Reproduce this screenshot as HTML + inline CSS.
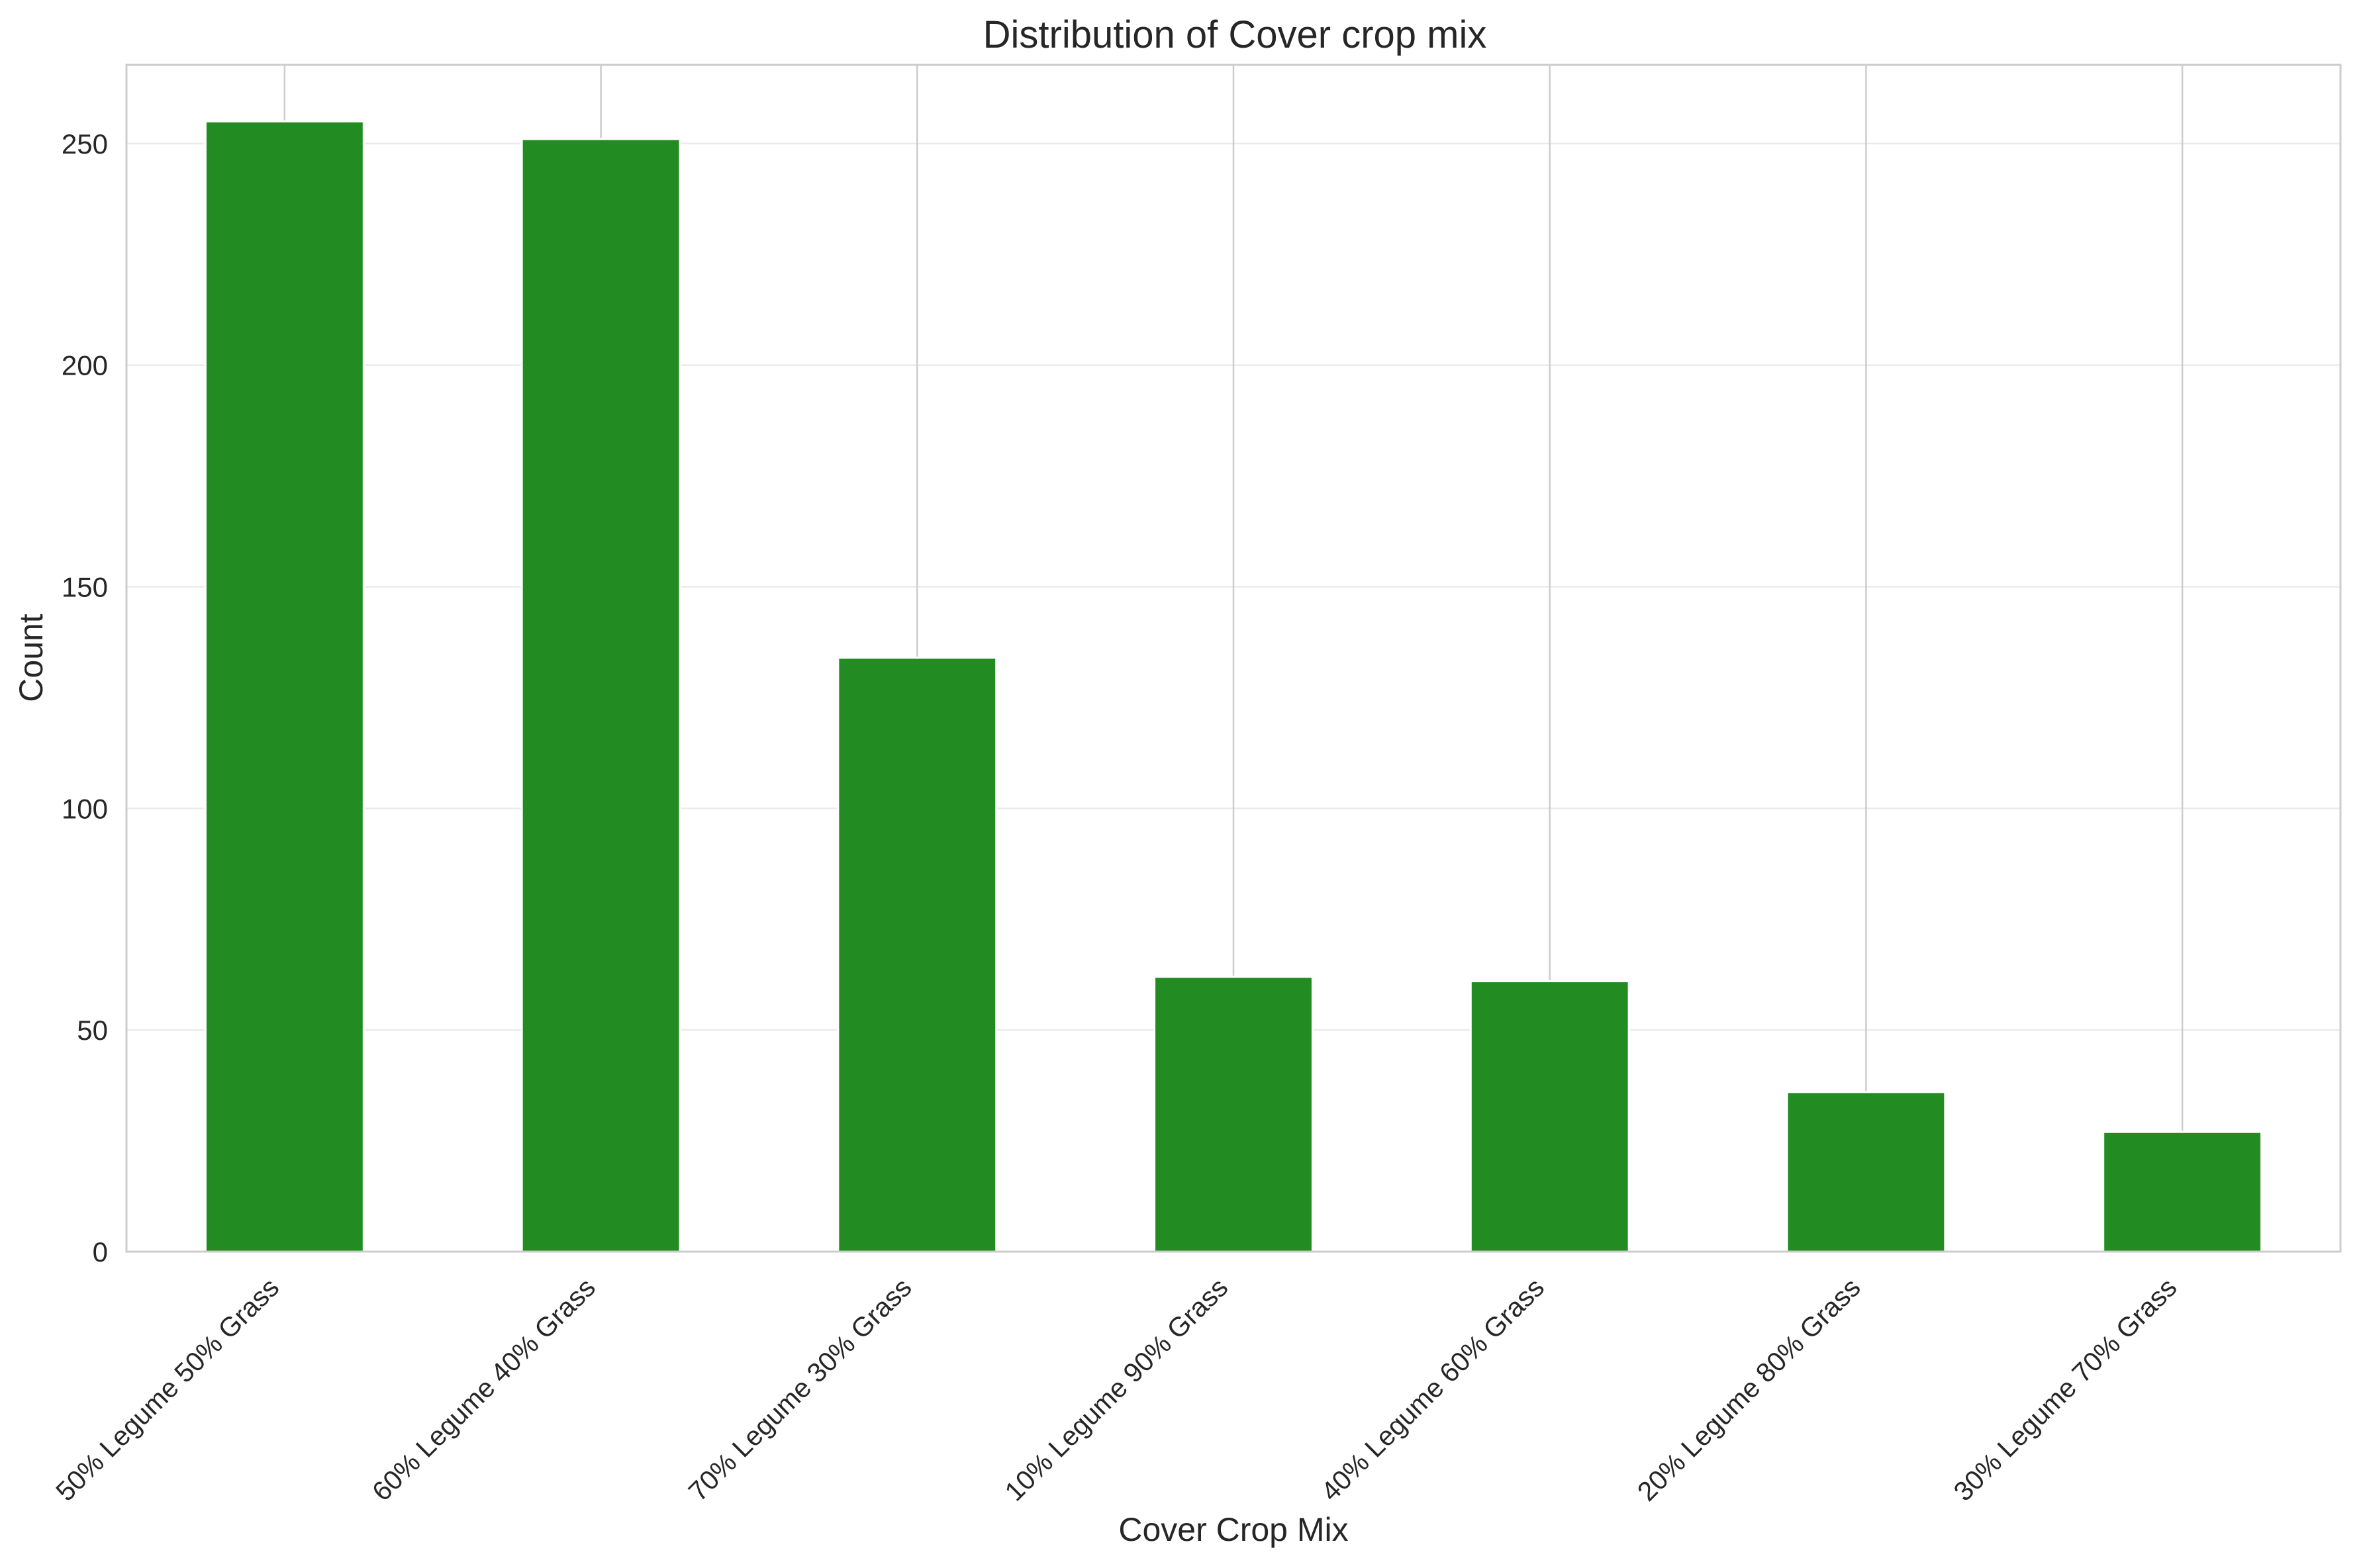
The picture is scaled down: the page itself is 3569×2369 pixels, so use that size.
<!DOCTYPE html>
<html><head><meta charset="utf-8"><style>
html,body{margin:0;padding:0;background:#fff;}
svg{display:block;font-family:"Liberation Sans",Arial,sans-serif;}
</style></head><body>
<svg id="chart" width="3569" height="2369" viewBox="0 0 3569 2369" xmlns="http://www.w3.org/2000/svg">
<rect x="0" y="0" width="3569" height="2369" fill="#fff"/>
<g id="grid"></g>
<g id="bars"></g>
<g id="axes"></g>
<text x="1865" y="72" font-size="58" text-anchor="middle" fill="#262626">Distribution of Cover crop mix</text>
<text x="1863" y="2328" font-size="50" text-anchor="middle" fill="#262626">Cover Crop Mix</text>
<text transform="translate(64,994) rotate(-90)" font-size="50" text-anchor="middle" fill="#262626">Count</text>
</svg>
<script>
const categories = ["50% Legume 50% Grass","60% Legume 40% Grass","70% Legume 30% Grass","10% Legume 90% Grass","40% Legume 60% Grass","20% Legume 80% Grass","30% Legume 70% Grass"];
const counts = [255, 251, 134, 62, 61, 36, 27];
const yTicks = [0, 50, 100, 150, 200, 250];

const NS = "http://www.w3.org/2000/svg";
const L = 191, R = 3535, T = 98, B = 1891;
const yMax = Math.max(...counts) * 1.05;
const step = (R - L) / categories.length;
function xPos(i){ return L + step * (i + 0.5); }
function yPos(v){ return B - (v / yMax) * (B - T); }
function mk(tag, attrs, parent){
  const e = document.createElementNS(NS, tag);
  for (const k in attrs) e.setAttribute(k, attrs[k]);
  parent.appendChild(e);
  return e;
}
const grid = document.getElementById('grid');
const bars = document.getElementById('bars');
const axes = document.getElementById('axes');

yTicks.forEach(t => {
  const y = yPos(t);
  const g = mk('line', {x1:L, x2:R, y1:y, y2:y, stroke:'#ebebeb', 'stroke-width':2.5}, grid);
  
  
  const lb = mk('text', {x:163, y:y+15, 'font-size':42, 'text-anchor':'end', fill:'#262626'}, axes);
  lb.textContent = t;
  
  
});
categories.forEach((c, i) => {
  const x = xPos(i);
  const g = mk('line', {x1:x, x2:x, y1:T, y2:B, stroke:'#cccccc', 'stroke-width':2.5}, grid);
  
  
  const w = step * 0.5;
  const y = yPos(counts[i]);
  const b = mk('rect', {x:x - w/2, y:y, width:w, height:B - y, fill:'#228b22', stroke:'#ffffff', 'stroke-width':3}, bars);
  
  
  const lb = mk('text', {transform:'translate(' + (x - 6) + ',1948) rotate(-45)', 'font-size':41, 'text-anchor':'end', fill:'#262626'}, axes);
  lb.textContent = c;
  
  
});
const frame = mk('rect', {x:L, y:T, width:R-L, height:B-T, fill:'none', stroke:'#cccccc', 'stroke-width':3}, axes);


</script>
</body></html>
